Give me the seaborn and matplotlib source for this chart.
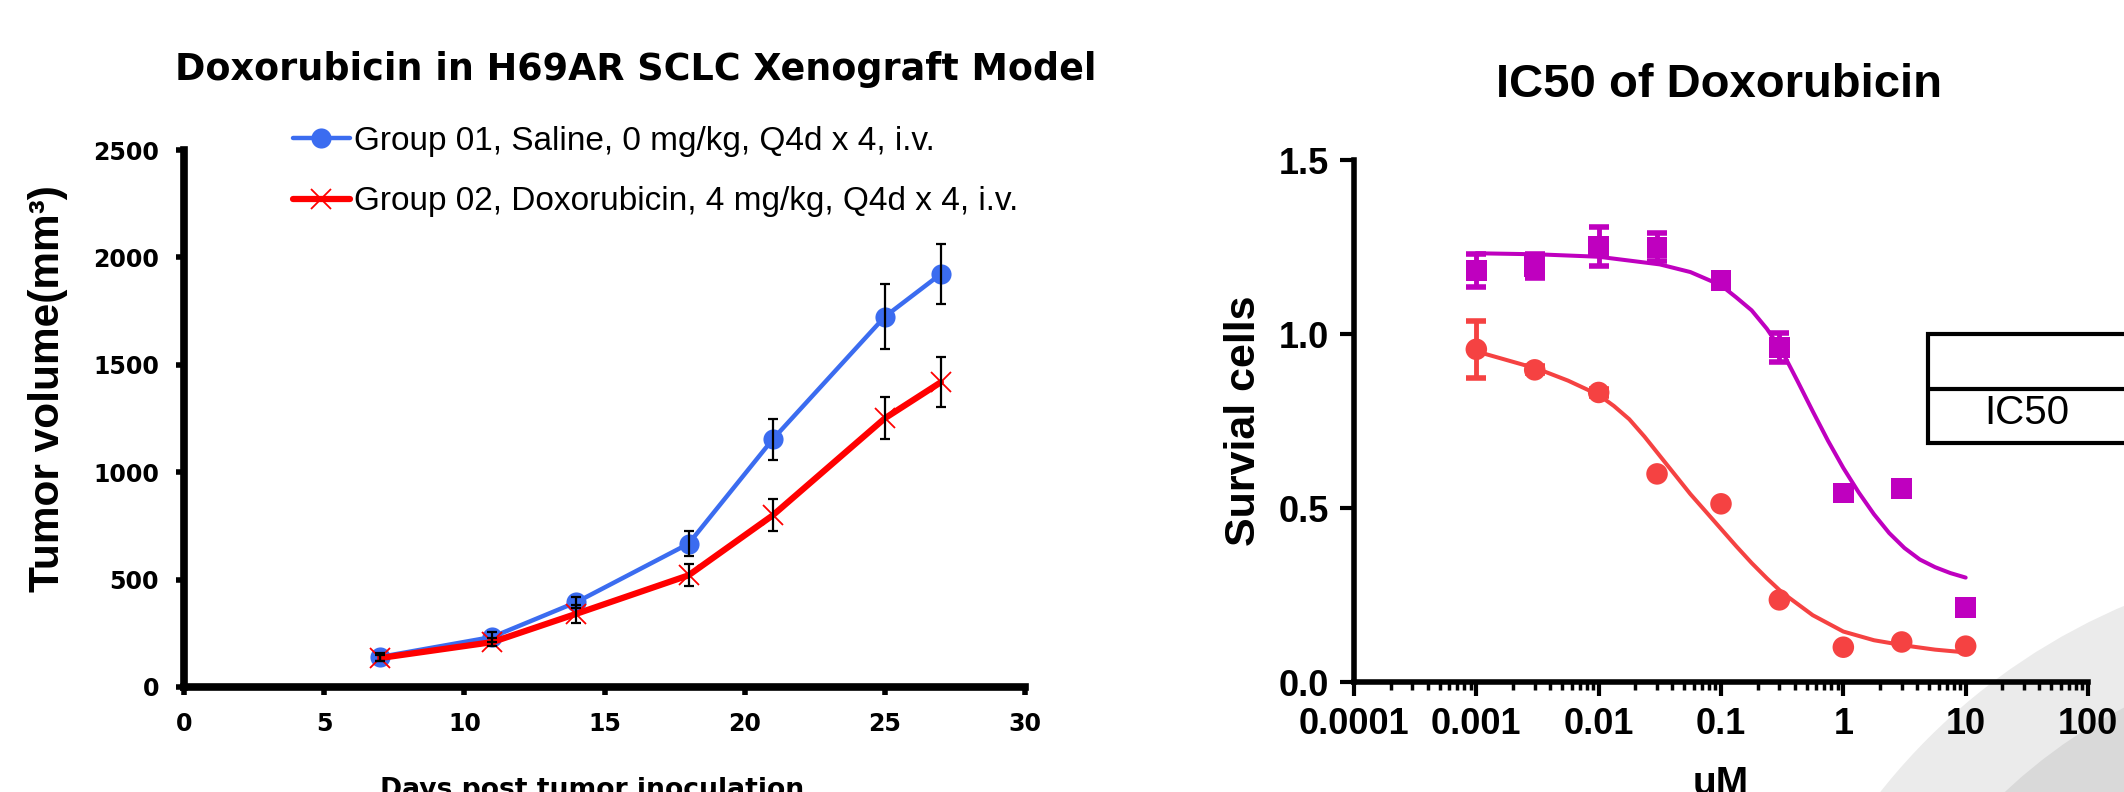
import numpy as np
import pandas as pd
import matplotlib
matplotlib.use("Agg")
import matplotlib.pyplot as plt
import seaborn as sns
from matplotlib.patches import Ellipse, Rectangle
from matplotlib.lines import Line2D
from matplotlib.ticker import FixedLocator, NullFormatter, LogLocator

# ---------------- data: left chart (tumour growth) ----------------
days = [7, 11, 14, 18, 21, 25, 27]
saline_mean = [140, 233, 395, 667, 1153, 1724, 1923]
saline_sem = [20, 22, 25, 57, 96, 150, 140]
doxo_mean = [135, 209, 341, 520, 799, 1251, 1419]
doxo_sem = [15, 18, 42, 52, 75, 97, 115]
group_labels = ["Group 01, Saline, 0 mg/kg, Q4d x 4, i.v.",
                "Group 02, Doxorubicin, 4 mg/kg, Q4d x 4, i.v."]
left_xticks = [0, 5, 10, 15, 20, 25, 30]
left_yticks = [0, 500, 1000, 1500, 2000, 2500]

# ---------------- data: right chart (IC50) ----------------
dose_um = [0.001, 0.003, 0.01, 0.03, 0.1, 0.3, 1, 3, 10]
resist_mean = [1.182, 1.195, 1.251, 1.249, 1.154, 0.961, 0.543, 0.556, 0.213]
resist_err = [0.048, 0.035, 0.057, 0.040, 0.012, 0.042, 0.0, 0.0, 0.0]
sens_mean = [0.956, 0.897, 0.832, 0.598, 0.512, 0.236, 0.100, 0.115, 0.103]
sens_err = [0.081, 0.010, 0.010, 0.0, 0.0, 0.0, 0.0, 0.0, 0.0]
# fitted curves
resist_fit_dose = [0.001, 0.00316, 0.01, 0.0316, 0.0562, 0.1, 0.1334, 0.178,
                   0.2371, 0.316, 0.4217, 0.562, 0.75, 1, 1.334, 1.78, 2.371,
                   3.16, 4.217, 5.62, 7.499, 10]
resist_fit = [1.232, 1.229, 1.222, 1.200, 1.178, 1.140, 1.105, 1.068, 1.015,
              0.950, 0.865, 0.778, 0.693, 0.615, 0.545, 0.482, 0.428, 0.385,
              0.352, 0.330, 0.313, 0.300]
sens_fit_dose = [0.001, 0.00316, 0.00562, 0.01, 0.01334, 0.0178, 0.02371,
                 0.0316, 0.04217, 0.0562, 0.075, 0.1, 0.1334, 0.178, 0.2371,
                 0.316, 0.562, 1, 1.78, 3.16, 5.62, 10]
sens_fit = [0.950, 0.900, 0.866, 0.825, 0.793, 0.755, 0.705, 0.650, 0.595,
            0.540, 0.490, 0.440, 0.390, 0.342, 0.298, 0.257, 0.192, 0.145,
            0.120, 0.105, 0.093, 0.085]
right_xticks = [0.0001, 0.001, 0.01, 0.1, 1, 10, 100]
right_xticklabels = ["0.0001", "0.001", "0.01", "0.1", "1", "10", "100"]
right_yticks = [0.0, 0.5, 1.0, 1.5]
right_yticklabels = ["0.0", "0.5", "1.0", "1.5"]

BLUE = "#3B6CF0"
RED = "#FF0000"
MAG = "#BF00BF"
CORAL = "#F54242"

sns.set_style("ticks")
plt.rcParams["font.family"] = ["DejaVu Sans"]
for k in ["text.color", "axes.labelcolor", "xtick.color", "ytick.color",
          "axes.edgecolor"]:
    plt.rcParams[k] = "black"

W, H = 2124, 792
fig = plt.figure(figsize=(W / 100, H / 100), dpi=100)
fig.patch.set_facecolor("white")


def fx(px):
    return px / W


def fy(py):
    return 1 - py / H


# decorative grey circles (bottom right, behind everything)
fig.patches.append(Ellipse((fx(2368), fy(1178)), 2 * 622 / W, 2 * 622 / H,
                           transform=fig.transFigure, facecolor="#EBEBEB",
                           edgecolor="none", zorder=-2))
fig.patches.append(Ellipse((fx(2368), fy(1178)), 2 * 530 / W, 2 * 530 / H,
                           transform=fig.transFigure, facecolor="#D9D9D9",
                           edgecolor="none", zorder=-1))

# ---------------- left axes ----------------
axL = fig.add_axes([fx(184), fy(687), fx(1025 - 184), (687 - 150) / H])
axL.set_facecolor("none")
axL.set_zorder(2)
df_l = pd.DataFrame({"day": days * 2,
                     "vol": saline_mean + doxo_mean,
                     "group": [group_labels[0]] * len(days) + [group_labels[1]] * len(days)})

sns.lineplot(data=df_l[df_l.group == group_labels[0]], x="day", y="vol", ax=axL,
             color=BLUE, lw=3.2, marker="o", markersize=14.5, markeredgewidth=0,
             markerfacecolor=BLUE, zorder=3, legend=False)
sns.lineplot(data=df_l[df_l.group == group_labels[1]], x="day", y="vol", ax=axL,
             color=RED, lw=4.5, marker="x", markersize=14, markeredgewidth=1.3,
             markeredgecolor=RED, zorder=4, legend=False)
axL.errorbar(days, saline_mean, yerr=saline_sem, fmt="none", ecolor="black",
             elinewidth=1.6, capsize=3.8, capthick=1.6, zorder=5)
axL.errorbar(days, doxo_mean, yerr=doxo_sem, fmt="none", ecolor="black",
             elinewidth=1.6, capsize=3.8, capthick=1.6, zorder=5)

axL.set_xlim(0, 30)
axL.set_ylim(0, 2500)
axL.set_xticks(left_xticks)
axL.set_yticks(left_yticks)
for s in ["top", "right"]:
    axL.spines[s].set_visible(False)
for s in ["left", "bottom"]:
    axL.spines[s].set_linewidth(5.5)
    axL.spines[s].set_color("black")
axL.tick_params(axis="both", direction="out", length=6, width=4, color="black",
                labelsize=17, pad=12, labelcolor="black")
for lab in axL.get_xticklabels() + axL.get_yticklabels():
    lab.set_fontweight("bold")
axL.set_xlabel("")
axL.set_ylabel("Tumor volume(mm³)", fontsize=30.5, fontweight="bold",
               family=["Liberation Sans"], va="center", color="black")
axL.yaxis.set_label_coords(-0.1617, 0.555)

handles = [Line2D([], [], color=BLUE, lw=3.2, marker="o", markersize=14.5,
                  markeredgewidth=0),
           Line2D([], [], color=RED, lw=4.5, marker="x", markersize=14,
                  markeredgewidth=1.3)]
axL.legend(handles, group_labels, loc="upper left",
           bbox_to_anchor=(fx(293), fy(126)), bbox_transform=fig.transFigure,
           frameon=False, prop={"family": ["Liberation Sans"], "size": 24},
           handlelength=1.7, handletextpad=0.12, labelspacing=0.88,
           borderpad=0, borderaxespad=0, labelcolor="black")

fig.text(fx(636), fy(80), "Doxorubicin in H69AR SCLC Xenograft Model",
         ha="center", va="baseline", fontsize=26.3, fontweight="bold")
fig.text(fx(592), fy(797), "Days post tumor inoculation", ha="center",
         va="baseline", fontsize=19.2, fontweight="bold")

# ---------------- right axes ----------------
axR = fig.add_axes([fx(1354), fy(682), fx(2088 - 1354), (682 - 160) / H])
axR.set_facecolor("none")
axR.set_zorder(2)
df_fa = pd.DataFrame({"dose": resist_fit_dose, "fit": resist_fit})
df_fb = pd.DataFrame({"dose": sens_fit_dose, "fit": sens_fit})
sns.lineplot(data=df_fa, x="dose", y="fit", ax=axR, color=MAG, lw=2.9,
             zorder=2, legend=False)
sns.lineplot(data=df_fb, x="dose", y="fit", ax=axR, color=CORAL, lw=2.9,
             zorder=2, legend=False)
axR.errorbar(dose_um, resist_mean, yerr=resist_err, fmt="none", ecolor=MAG,
             elinewidth=3.5, capsize=7, capthick=4, zorder=3)
axR.errorbar(dose_um, sens_mean, yerr=sens_err, fmt="none", ecolor=CORAL,
             elinewidth=3.5, capsize=7, capthick=4, zorder=3)
df_pts = pd.DataFrame({"dose": dose_um, "resist": resist_mean, "sens": sens_mean})
sns.scatterplot(data=df_pts, x="dose", y="resist", ax=axR, marker="s", s=15 ** 2,
                color=MAG, edgecolor="none", zorder=4, legend=False)
sns.scatterplot(data=df_pts, x="dose", y="sens", ax=axR, marker="o", s=15.5 ** 2,
                color=CORAL, edgecolor="none", zorder=4, legend=False)

axR.set_xscale("log")
axR.set_xlim(1e-4, 1e2)
axR.set_ylim(0, 1.5)
axR.xaxis.set_major_locator(FixedLocator(right_xticks))
axR.set_xticklabels(right_xticklabels)
axR.xaxis.set_minor_locator(LogLocator(base=10, subs=np.arange(2, 10), numticks=20))
axR.xaxis.set_minor_formatter(NullFormatter())
axR.set_yticks(right_yticks)
axR.set_yticklabels(right_yticklabels)
for s in ["top", "right"]:
    axR.spines[s].set_visible(False)
for s in ["left", "bottom"]:
    axR.spines[s].set_linewidth(4)
    axR.spines[s].set_color("black")
axR.tick_params(axis="both", which="major", direction="out", length=10, width=3,
                color="black", labelsize=26, pad=8, labelcolor="black")
axR.tick_params(axis="x", which="minor", direction="out", length=6, width=2.5,
                color="black")
for lab in axR.get_xticklabels() + axR.get_yticklabels():
    lab.set_fontweight("bold")
    lab.set_family(["Liberation Sans"])
axR.set_xlabel("")
axR.set_ylabel("Survial cells", fontsize=31, fontweight="bold",
               family=["Liberation Sans"], va="center", color="black")
axR.yaxis.set_label_coords(-0.15, 0.5)

fig.text(fx(1719), fy(97), "IC50 of Doxorubicin", ha="center", va="baseline",
         fontsize=34, fontweight="bold", family=["Liberation Sans"])
fig.text(fx(1721), fy(794), "uM", ha="center", va="baseline", fontsize=28,
         fontweight="bold", family=["Liberation Sans"])

# IC50 table box (cut off at right edge)
fig.patches.append(Rectangle((fx(1928), fy(443)), fx(400), (443 - 334) / H,
                             transform=fig.transFigure, facecolor="white",
                             edgecolor="black", lw=3, zorder=5))
fig.lines.append(Line2D([fx(1928), fx(2200)], [fy(389), fy(389)],
                        transform=fig.transFigure, color="black", lw=3, zorder=6))
fig.text(fx(2027), fy(413), "IC50", ha="center", va="center", fontsize=29,
         family=["Liberation Sans"], zorder=7)

fig.savefig("out.png", dpi=100)
